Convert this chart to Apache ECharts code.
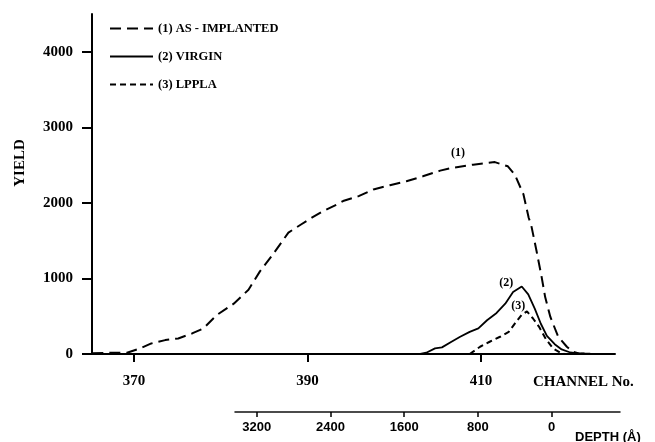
<!DOCTYPE html>
<html>
<head>
<meta charset="utf-8">
<script src="https://cdn.jsdelivr.net/npm/echarts@6/dist/echarts.min.js"></script>
<style>
  html, body { margin: 0; padding: 0; background: #fff; }
  #chart { width: 655px; height: 442px; }
</style>
</head>
<body>
<div id="chart"></div>
<script>
// channel / yield
var implantedCh = [365.2, 367.2, 369.2, 370.7, 372.0, 373.6, 375.1, 376.7, 378.0, 379.5, 381.5, 383.2, 384.5, 385.9, 387.0, 387.8, 389.3, 390.5, 391.8, 393.4, 394.1, 395.9, 397.6, 399.5, 401.4, 403.3, 405.3, 406.6, 409.1, 411.6, 413.1, 413.9, 414.9, 415.5, 415.8, 416.4, 417.0, 417.4, 418.0, 418.9, 419.9, 420.6, 421.3, 422.6];
var implantedYield = [10, 15, 17, 75, 140, 184, 206, 272, 338, 512, 666, 850, 1090, 1300, 1476, 1607, 1717, 1804, 1892, 1980, 2024, 2089, 2177, 2234, 2286, 2352, 2427, 2461, 2506, 2540, 2484, 2374, 2112, 1804, 1700, 1366, 1015, 753, 490, 228, 96, 30, 8, 5];

var virginCh = [401.8, 403.0, 403.7, 404.7, 405.5, 406.6, 407.6, 408.7, 409.7, 410.7, 411.8, 412.8, 413.7, 414.7, 415.45, 416.2, 416.9, 417.6, 418.5, 419.3, 420.3, 421.5, 422.6];
var virginYield = [0, 0, 17, 75, 88, 162, 228, 293, 338, 447, 543, 666, 819, 894, 790, 600, 400, 240, 130, 60, 20, 3, 3];

var lpplaCh = [408.7, 409.9, 411.0, 412.2, 413.2, 413.9, 414.7, 415.3, 416.0, 416.7, 417.5, 418.3, 419.1, 419.6];
var lpplaYield = [0, 96, 162, 228, 293, 403, 520, 565, 470, 360, 195, 75, 20, 0];

var seriesNames = ['(1) AS - IMPLANTED', '(2) VIRGIN', '(3) LPPLA'];
var channelTicks = [370, 390, 410];
var yieldTicks = [0, 1000, 2000, 3000, 4000];
var depthTicks = [0, 800, 1600, 2400, 3200];

function pairs(xs, ys) {
  var out = [];
  for (var i = 0; i < xs.length; i++) out.push([xs[i], ys[i]]);
  return out;
}
function plain(v) { return String(v); }

var serif = '"Liberation Serif", "Times New Roman", serif';
var sans = '"Liberation Sans", Arial, sans-serif';

var myChart = echarts.init(document.getElementById('chart'));

myChart.setOption({
  animation: false,
  backgroundColor: '#fff',
  legend: {
    orient: 'vertical',
    left: 104,
    top: 17,
    itemWidth: 43,
    itemHeight: 14,
    itemGap: 15,
    itemStyle: { opacity: 0 },
    textStyle: { fontFamily: serif, fontWeight: 'bold', fontSize: 12.5, color: '#000' },
    data: seriesNames
  },
  grid: [
    { left: 92, right: 40, top: 14, bottom: 88 },
    { left: 235, right: 35, top: 400, height: 12 }
  ],
  xAxis: [{
    type: 'value',
    gridIndex: 0,
    min: 365.16,
    max: 425.45,
    splitLine: { show: false },
    axisLine: { lineStyle: { color: '#000', width: 2 } },
    axisTick: { length: 8, lineStyle: { color: '#000', width: 2 }, customValues: channelTicks },
    axisLabel: { margin: 20, customValues: channelTicks, formatter: plain, fontFamily: serif, fontWeight: 'bold', fontSize: 15, color: '#000' }
  }, {
    type: 'value',
    gridIndex: 1,
    min: -741,
    max: 3435,
    inverse: true,
    splitLine: { show: false },
    axisLine: { lineStyle: { color: '#111', width: 1.5 } },
    axisTick: { length: 5, lineStyle: { color: '#000', width: 1.5 }, customValues: depthTicks },
    axisLabel: { margin: 9, customValues: depthTicks, formatter: plain, fontFamily: sans, fontWeight: 'bold', fontSize: 13, color: '#000' }
  }],
  yAxis: [{
    type: 'value',
    gridIndex: 0,
    min: 0,
    max: 4500,
    splitLine: { show: false },
    axisLine: { show: true, lineStyle: { color: '#000', width: 2 } },
    axisTick: { show: true, length: 10, lineStyle: { color: '#000', width: 2 }, customValues: yieldTicks },
    axisLabel: { margin: 19, customValues: yieldTicks, formatter: plain, fontFamily: serif, fontWeight: 'bold', fontSize: 15, color: '#000' }
  }, {
    type: 'value',
    gridIndex: 1,
    show: false
  }],
  graphic: [
    { type: 'text', x: 20, y: 163, rotation: Math.PI / 2,
      style: { text: 'YIELD', align: 'center', verticalAlign: 'middle', font: 'bold 15px ' + serif, fill: '#000' } },
    { type: 'text', x: 533, y: 382,
      style: { text: 'CHANNEL No.', align: 'left', verticalAlign: 'middle', font: 'bold 15px ' + serif, fill: '#000' } },
    { type: 'text', x: 575, y: 437,
      style: { text: 'DEPTH (Å)', align: 'left', verticalAlign: 'middle', font: 'bold 13px ' + sans, fill: '#000' } }
  ],
  series: [{
    name: seriesNames[0],
    type: 'line',
    showSymbol: false,
    symbol: 'none',
    color: '#000',
    lineStyle: { color: '#000', width: 2, type: [11, 6] },
    data: pairs(implantedCh, implantedYield),
    markPoint: {
      symbol: 'circle', symbolSize: 0,
      label: { show: true, position: 'inside', formatter: '{b}', fontFamily: serif, fontWeight: 'bold', fontSize: 12, color: '#000' },
      data: [{ name: '(1)', coord: [407.35, 2660] }]
    }
  }, {
    name: seriesNames[1],
    type: 'line',
    showSymbol: false,
    symbol: 'none',
    color: '#000',
    lineStyle: { color: '#000', width: 1.8, type: 'solid' },
    data: pairs(virginCh, virginYield),
    markPoint: {
      symbol: 'circle', symbolSize: 0,
      label: { show: true, position: 'inside', formatter: '{b}', fontFamily: serif, fontWeight: 'bold', fontSize: 12, color: '#000' },
      data: [{ name: '(2)', coord: [412.9, 935] }]
    }
  }, {
    name: seriesNames[2],
    type: 'line',
    showSymbol: false,
    symbol: 'none',
    color: '#000',
    lineStyle: { color: '#000', width: 2, type: [6, 4] },
    data: pairs(lpplaCh, lpplaYield),
    markPoint: {
      symbol: 'circle', symbolSize: 0,
      label: { show: true, position: 'inside', formatter: '{b}', fontFamily: serif, fontWeight: 'bold', fontSize: 12, color: '#000' },
      data: [{ name: '(3)', coord: [414.3, 635] }]
    }
  }]
});
</script>
</body>
</html>
